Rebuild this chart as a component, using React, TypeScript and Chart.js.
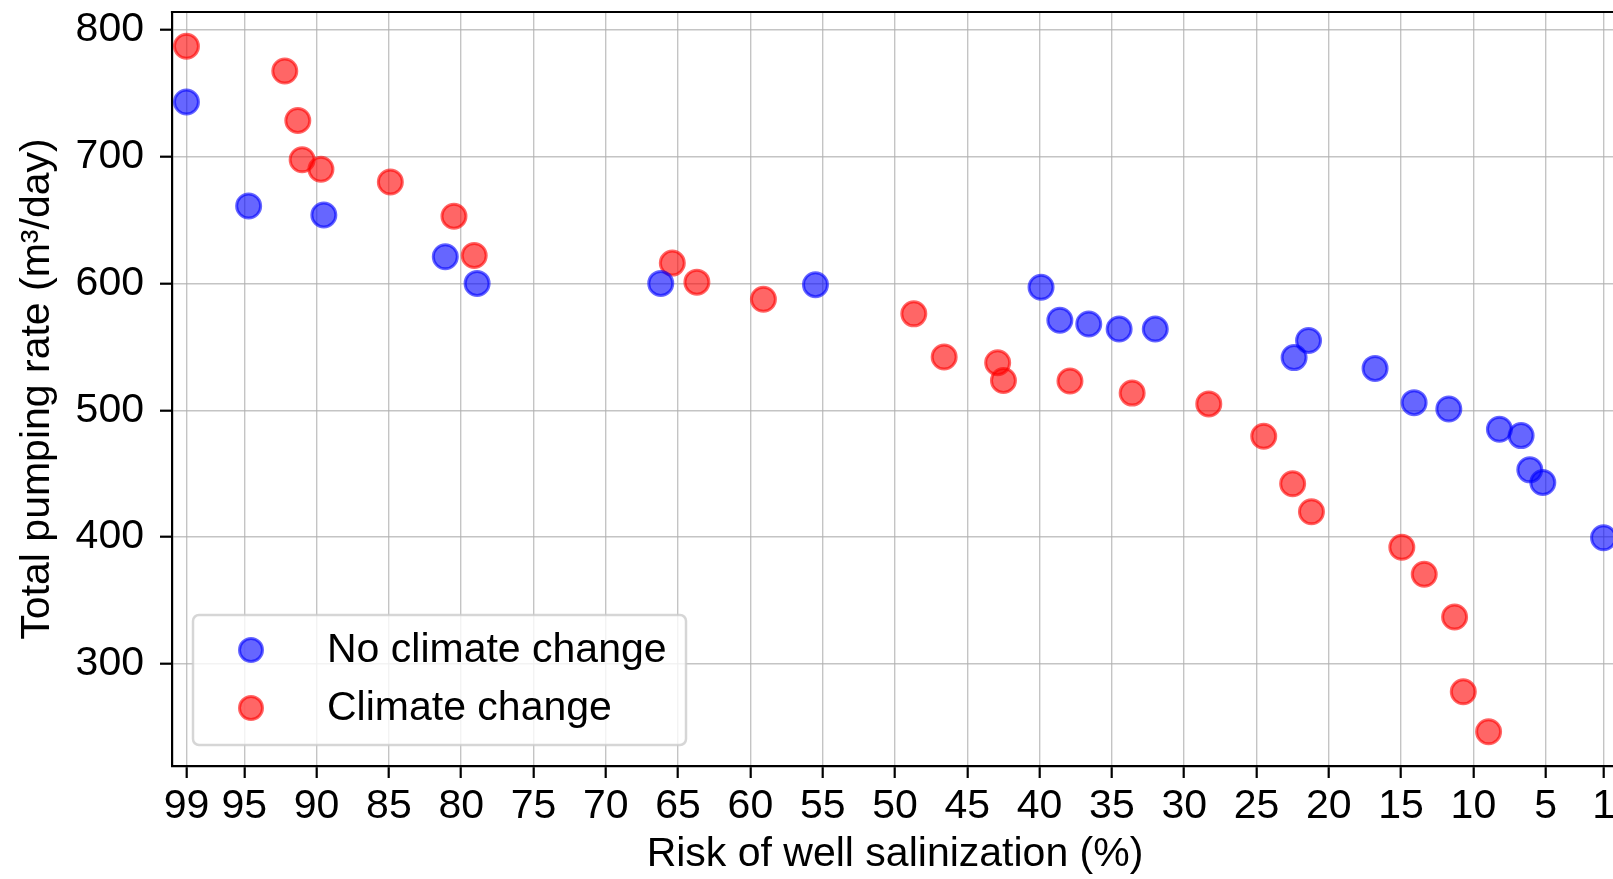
import React, { useEffect, useRef } from "react";
import { Chart, registerables } from "chart.js";

Chart.register(...registerables);

const noClimateRisk = [99, 94.7, 89.5, 81.1, 78.9, 66.2, 55.5, 39.9, 38.6, 36.6, 34.5, 32.0, 22.4, 21.4, 16.8, 14.1, 11.7, 8.2, 6.7, 6.1, 5.2, 1];
const noClimatePumping = [743, 661, 654, 621, 600, 600, 599, 597, 571, 568, 564, 564, 541.5, 555, 533, 506, 501, 485, 480, 453, 443, 399.5];

const climateRisk = [99, 92.2, 91.3, 91.0, 89.7, 84.9, 80.5, 79.1, 65.4, 63.7, 59.1, 48.7, 46.6, 42.9, 42.5, 37.9, 33.6, 28.3, 24.5, 22.5, 21.2, 14.95, 13.4, 11.3, 10.7, 8.95];
const climatePumping = [787, 767.5, 728.5, 697.5, 690, 680, 653, 622, 616, 601, 587.5, 576, 542, 537.5, 523.5, 523, 513.5, 505, 479.5, 442, 420, 392, 370.7, 337, 278, 246.5];

const xTickValues = [99, 95, 90, 85, 80, 75, 70, 65, 60, 55, 50, 45, 40, 35, 30, 25, 20, 15, 10, 5, 1];
const yTickValues = [300, 400, 500, 600, 700, 800];

const seriesLabels = ["No climate change", "Climate change"];
const FONT = '"Liberation Sans", Arial, sans-serif';

const BLUE_FILL = "rgba(0,0,255,0.6)";
const RED_FILL = "rgba(255,0,0,0.6)";

export default function App() {
  const ref = useRef<HTMLCanvasElement | null>(null);

  useEffect(() => {
    const canvas = ref.current;
    if (!canvas) return;

    const frameAndLegend = {
      id: "frameAndLegend",
      afterDraw(chart: any) {
        const { ctx, chartArea } = chart;
        ctx.save();
        // top spine
        ctx.strokeStyle = "#000";
        ctx.lineWidth = 2.2;
        ctx.beginPath();
        ctx.moveTo(chartArea.left - 1.1, chartArea.top);
        ctx.lineTo(chartArea.right, chartArea.top);
        ctx.stroke();

        // legend
        const bx = chartArea.left + 21;
        const bw = 493;
        const bh = 130;
        const by = chartArea.bottom - 21 - bh;
        const r = 6;
        ctx.beginPath();
        ctx.moveTo(bx + r, by);
        ctx.lineTo(bx + bw - r, by);
        ctx.arcTo(bx + bw, by, bx + bw, by + r, r);
        ctx.lineTo(bx + bw, by + bh - r);
        ctx.arcTo(bx + bw, by + bh, bx + bw - r, by + bh, r);
        ctx.lineTo(bx + r, by + bh);
        ctx.arcTo(bx, by + bh, bx, by + bh - r, r);
        ctx.lineTo(bx, by + r);
        ctx.arcTo(bx, by, bx + r, by, r);
        ctx.closePath();
        ctx.fillStyle = "rgba(255,255,255,0.8)";
        ctx.fill();
        ctx.strokeStyle = "rgba(204,204,204,0.8)";
        ctx.lineWidth = 2.5;
        ctx.stroke();

        const rows = [
          { label: seriesLabels[0], color: BLUE_FILL, y: by + 35 },
          { label: seriesLabels[1], color: RED_FILL, y: by + 93 },
        ];
        rows.forEach((row) => {
          ctx.beginPath();
          ctx.arc(bx + 58, row.y, 11.5, 0, Math.PI * 2);
          ctx.fillStyle = row.color;
          ctx.fill();
          ctx.strokeStyle = row.color;
          ctx.lineWidth = 3;
          ctx.stroke();
          ctx.fillStyle = "#000";
          ctx.font = `41px ${FONT}`;
          ctx.textBaseline = "middle";
          ctx.textAlign = "left";
          ctx.fillText(row.label, bx + 134, row.y + 1);
        });
        ctx.restore();
      },
    };

    const chart = new Chart(canvas, {
      type: "scatter",
      data: {
        datasets: [
          {
            label: seriesLabels[0],
            data: noClimateRisk.map((x, i) => ({ x, y: noClimatePumping[i] })),
            backgroundColor: BLUE_FILL,
            borderColor: BLUE_FILL,
            borderWidth: 3,
            pointRadius: 12,
            pointHoverRadius: 12,
          },
          {
            label: seriesLabels[1],
            data: climateRisk.map((x, i) => ({ x, y: climatePumping[i] })),
            backgroundColor: RED_FILL,
            borderColor: RED_FILL,
            borderWidth: 3,
            pointRadius: 12,
            pointHoverRadius: 12,
          },
        ],
      },
      options: {
        responsive: false,
        animation: false,
        devicePixelRatio: 1,
        layout: { autoPadding: false, padding: { left: 0, top: 12, right: 22, bottom: 0 } },
        plugins: { legend: { display: false }, tooltip: { enabled: false } },
        scales: {
          x: {
            type: "linear",
            reverse: true,
            min: 0,
            max: 100,
            afterBuildTicks: (scale: any) => {
              scale.ticks = xTickValues.map((v) => ({ value: v }));
            },
            afterFit: (scale: any) => {
              scale.height = 113;
              scale.paddingLeft = 0;
              scale.paddingRight = 0;
            },
            ticks: {
              color: "#000",
              font: { family: FONT, size: 41 },
              padding: 4,
              maxRotation: 0,
              autoSkip: false,
              callback: (v: any) => String(v),
            },
            grid: {
              color: "rgba(176,176,176,0.75)",
              lineWidth: 1.4,
              tickColor: "#000",
              tickWidth: 2.2,
              tickLength: 12,
            },
            border: { color: "#000", width: 2.2 },
            title: {
              display: true,
              text: "Risk of well salinization (%)",
              color: "#000",
              font: { family: FONT, size: 41 },
              padding: { top: 0, bottom: 0 },
            },
          },
          y: {
            type: "linear",
            min: 219.5,
            max: 814,
            afterBuildTicks: (scale: any) => {
              scale.ticks = yTickValues.map((v) => ({ value: v }));
            },
            afterFit: (scale: any) => {
              scale.width = 172;
              scale.paddingTop = 0;
              scale.paddingBottom = 0;
            },
            ticks: {
              color: "#000",
              font: { family: FONT, size: 41 },
              padding: 16,
              callback: (v: any) => String(v),
            },
            grid: {
              color: "rgba(176,176,176,0.75)",
              lineWidth: 1.4,
              tickColor: "#000",
              tickWidth: 2.2,
              tickLength: 12,
            },
            border: { color: "#000", width: 2.2 },
            title: {
              display: true,
              text: "Total pumping rate (m³/day)",
              color: "#000",
              font: { family: FONT, size: 41 },
              padding: { top: 13, bottom: 0 },
            },
          },
        },
      },
      plugins: [frameAndLegend],
    } as any);

    return () => chart.destroy();
  }, []);

  return (
    <div
      style={{
        position: "fixed",
        left: 0,
        top: 0,
        width: 1613,
        height: 879,
        overflow: "hidden",
        background: "#fff",
      }}
    >
      <canvas ref={ref} width={1640} height={879} style={{ display: "block" }} />
    </div>
  );
}
